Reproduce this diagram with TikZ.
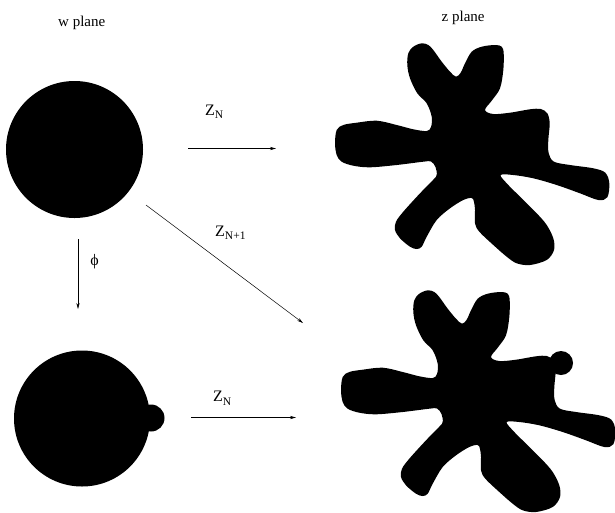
\documentclass[tikz,border=0pt]{standalone}
\usepackage{fontspec}
\setmainfont{Liberation Serif}
\usetikzlibrary{arrows.meta}
\tikzset{
  mapar/.style={line width=0.5pt, -{Stealth[length=6pt,width=3.2pt]}},
  blob/.style={fill=black},
  lbl/.style={inner sep=0pt, font=\fontsize{15}{18}\selectfont, anchor=base west},
  zlbl/.style={inner sep=0pt, font=\fontsize{16}{19}\selectfont, anchor=base west},
}
\newcommand{\zsub}[1]{Z\raisebox{-3.3pt}{\fontsize{11.5}{13}\selectfont #1}}
\begin{document}
\begin{tikzpicture}[x=1pt,y=-1pt]
\useasboundingbox (0,0) rectangle (615,512);
% w plane shapes
\fill[blob] (74.5,149.5) circle[radius=68.5];
\fill[blob] (82,418.5) circle[radius=68];
\fill[blob] (151,418) circle[radius=13.5];
% z plane shapes
\foreach \dx/\dy in {0/0, 6/247}{
\fill[blob, shift={(\dx,\dy)}] plot[smooth cycle, tension=0.55] coordinates {
(408.3,53.3) (413.3,46.7) (421.7,43.3) (428.3,45) (433.3,50) (441.7,61.7) (450,71.7) (456,76.7)
(460.7,72.7) (465,63.3) (471.7,51.7) (481.7,46.7) (495,45) (501.7,46.7) (503.7,53.3) (503.3,70)
(500,88.3) (491.7,100.7) (485,110)
(493.3,114) (510,112.7) (530,109.3) (540.7,109) (547.3,113.3) (549.7,123.3) (548.3,140) (548.7,153.3)
(554,161.7) (570,165)
(593.3,168.3) (605.3,172.7) (609.3,183.3) (607.3,197.3) (598.3,200) (580,193.3) (556.7,185) (533.3,178.3) (513.3,175) (500.7,175)
(506.7,183.3) (520,196.7) (536.7,213.3) (546.7,225) (553.3,238.3) (554,250) (546.7,260) (530,265) (516.7,263.3)
(506.7,256.7) (493.3,245) (479.3,231.7) (475,223.3) (475,210) (474,202)
(471.7,198) (463.3,200) (450,208.3) (436.7,220) (426.7,236.7) (421.7,246.7) (416.7,249) (410,246.7)
(400,238.3) (395,230) (396,221.7) (403.3,211.7) (420,193.3) (433,180) (436.7,175)
(435.5,167) (431,161.5) (423.3,161.7) (396.7,165) (370,167.3) (353.3,165.7) (341.7,161.7) (336.7,155) (335,143)
(336.7,130) (343.3,125) (356.7,122.7) (376.7,120.7) (396.7,125) (413.3,129.3) (426.7,131) (431,127)
(431.7,116.7) (426.7,103.3) (417.3,93.3) (410,78.3) (407.3,65)
};
}
\fill[blob] (561,363) circle[radius=12];
% labels
\node[lbl] (wpl) at (58,26.7) {w plane};
\node[lbl] (zpl) at (441.5,21.8) {z plane};
\node[zlbl] (zn1) at (205,115) {\zsub{N}};
\node[zlbl] (zn2) at (215,236.5) {\zsub{N+1}};
\node[zlbl] (zn3) at (213,401.7) {\zsub{N}};
\node[inner sep=0pt] (phi) at (94.5,261.7) {\fontsize{16}{18}\selectfont\symbol{"03D5}};
% arrows
\coordinate (a1s) at (188,148.5); \coordinate (a1e) at (276,148.5);
\coordinate (a2s) at (146,205);   \coordinate (a2e) at (303,323);
\coordinate (a3s) at (78,239);    \coordinate (a3e) at (78,309);
\coordinate (a4s) at (191,417.5); \coordinate (a4e) at (296,417.5);
\draw[mapar] (a1s) -- (a1e);
\draw[mapar] (a2s) -- (a2e);
\draw[mapar] (a3s) -- (a3e);
\draw[mapar] (a4s) -- (a4e);
\end{tikzpicture}
\end{document}
